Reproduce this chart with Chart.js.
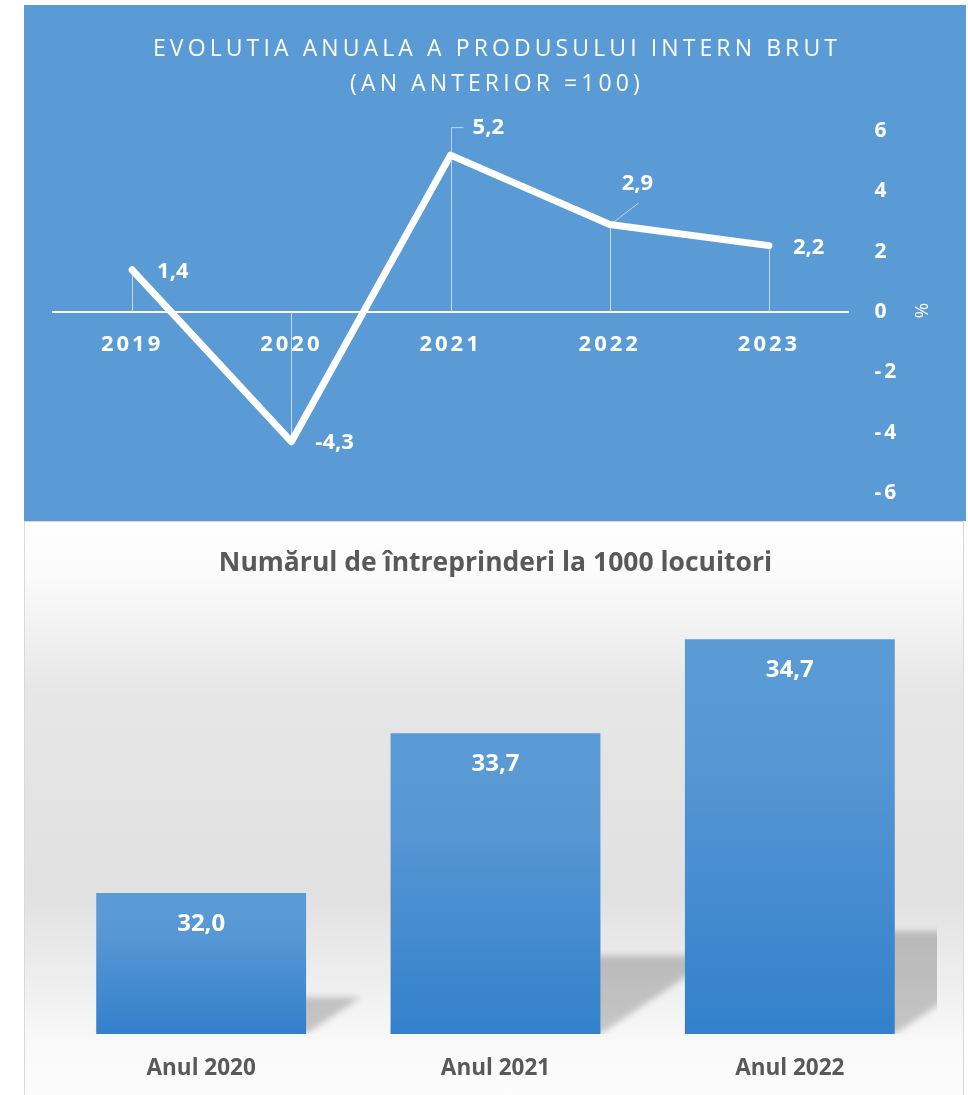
<!DOCTYPE html>
<html>
<head>
<meta charset="utf-8">
<script src="https://cdn.jsdelivr.net/npm/chart.js@4.4.1/dist/chart.umd.min.js"></script>
<style>
  body { margin: 0; width: 968px; height: 1095px; background: #fff; position: relative; overflow: hidden; }
  #top { position: absolute; left: 24px; top: 5px; width: 942px; height: 516px; background: #5B9BD5; }
  #bottom {
    position: absolute; left: 24px; top: 521px; width: 940px; height: 574px;
    box-sizing: border-box; border: 1px solid #d9d9d9; border-bottom: none;
    background: linear-gradient(to bottom, #ffffff 0%, #fafafa 10%, #e6e6e6 30%, #e1e1e1 65%, #eeeeee 80%, #f9f9f9 91%, #fcfcfc 100%);
  }
  canvas { display: block; }
</style>
</head>
<body>
<div id="top"><canvas id="gdpChart" width="942" height="516"></canvas></div>
<div id="bottom"><canvas id="firmsChart" width="938" height="573"></canvas></div>

<script>
// --- data ---
const years = ['2019', '2020', '2021', '2022', '2023'];
const gdpGrowth = [1.4, -4.3, 5.2, 2.9, 2.2];
const yTicks = [-6, -4, -2, 0, 2, 4, 6];
const gdpTitle = ['EVOLUTIA ANUALA A PRODUSULUI INTERN BRUT', '(AN ANTERIOR =100)'];

const categories = ['Anul 2020', 'Anul 2021', 'Anul 2022'];
const firmsPer1000 = [32.0, 33.7, 34.7];
const firmsTitle = 'Numărul de întreprinderi la 1000 locuitori';

const FONT = "'Open Sans', 'Noto Sans', sans-serif";
const fmt = v => v.toFixed(1).replace('.', ',');

// label placement relative to each point (px)
const labelDx = [25, 24, 22, 12, 24];
const labelDy = [2, 1, -27, -41, 2];
const leaders = { 2: [[0, 0], [0, -28], [12, -28]], 3: [[2, -2], [28, -22]] };

const gdpDecor = {
  id: 'gdpDecor',
  beforeDraw(chart) {
    chart.ctx.letterSpacing = '3px';
  },
  beforeDatasetsDraw(chart) {
    const ctx = chart.ctx;
    ctx.letterSpacing = '0px';
    const x = chart.scales.x, y = chart.scales.y;
    const zero = y.getPixelForValue(0);
    ctx.save();
    ctx.lineWidth = 1;
    gdpGrowth.forEach((v, i) => {
      const px = Math.round(x.getPixelForValue(i)), py = y.getPixelForValue(v);
      ctx.strokeStyle = 'rgba(255,255,255,0.65)';
      ctx.beginPath();
      ctx.moveTo(px + 0.5, py);
      ctx.lineTo(px + 0.5, zero);
      ctx.stroke();
      if (leaders[i]) {
        ctx.strokeStyle = 'rgba(225,230,236,0.75)';
        ctx.beginPath();
        leaders[i].forEach(([dx, dy], k) => {
          k ? ctx.lineTo(px + dx + 0.5, py + dy + 0.5) : ctx.moveTo(px + dx + 0.5, py + dy + 0.5);
        });
        ctx.stroke();
      }
    });
    ctx.restore();
  },
  afterDatasetsDraw(chart) {
    const ctx = chart.ctx;
    const x = chart.scales.x, y = chart.scales.y;
    ctx.save();
    ctx.fillStyle = '#fff';
    ctx.font = `bold 22px ${FONT}`;
    ctx.textAlign = 'left';
    ctx.textBaseline = 'middle';
    gdpGrowth.forEach((v, i) => {
      ctx.fillText(fmt(v), x.getPixelForValue(i) + labelDx[i], y.getPixelForValue(v) + labelDy[i]);
    });
    // title
    ctx.font = `23px ${FONT}`;
    ctx.letterSpacing = '4.1px';
    ctx.textAlign = 'center';
    const cx = chart.width / 2 + 2;
    ctx.fillText(gdpTitle[0], cx, 44);
    ctx.fillText(gdpTitle[1], cx, 79);
    ctx.restore();
  }
};

new Chart(document.getElementById('gdpChart'), {
  type: 'line',
  data: {
    labels: years,
    datasets: [{
      data: gdpGrowth,
      borderColor: '#ffffff',
      borderWidth: 7,
      pointRadius: 0,
      borderCapStyle: 'round',
      borderJoinStyle: 'round',
      tension: 0,
      clip: false
    }]
  },
  options: {
    responsive: false,
    animation: false,
    layout: { padding: { top: 126, bottom: 28, left: 28.5, right: 0 } },
    plugins: { legend: { display: false }, tooltip: { enabled: false } },
    scales: {
      x: {
        offset: true,
        position: { y: 0 },
        grid: { display: false, drawTicks: false, offset: true },
        border: { display: true, color: '#ffffff', width: 2 },
        ticks: { color: '#ffffff', font: { family: FONT, size: 22, weight: 'bold' }, padding: 20 }
      },
      y: {
        position: 'right',
        min: -6,
        max: 6,
        afterBuildTicks: s => { s.ticks = yTicks.map(v => ({ value: v })); },
        afterFit: s => { s.width = 117.4; s.paddingTop = 0; s.paddingBottom = 0; },
        grid: { display: false, drawTicks: false },
        border: { display: false },
        ticks: { color: '#ffffff', font: { family: FONT, size: 21, weight: 'bold' }, padding: 26, crossAlign: 'near' },
        title: { display: true, text: '%', color: '#ffffff', font: { family: FONT, size: 19 }, padding: { top: 34, bottom: 0 } }
      }
    }
  },
  plugins: [gdpDecor]
});

// --- bottom chart ---
const barGradient = c => {
  const chart = c.chart, area = chart.chartArea;
  if (!area || c.dataIndex === undefined) return '#5B9BD5';
  const top = chart.scales.y.getPixelForValue(firmsPer1000[c.dataIndex]);
  const g = chart.ctx.createLinearGradient(0, top, 0, area.bottom);
  g.addColorStop(0, '#5B9BD5');
  g.addColorStop(0.3, '#5797d4');
  g.addColorStop(1, '#3380CB');
  return g;
};

// perspective shadow behind each bar, clipped to the plot area
const barShadow = {
  id: 'barShadow',
  beforeDatasetsDraw(chart) {
    const ctx = chart.ctx, a = chart.chartArea;
    ctx.save();
    ctx.beginPath();
    ctx.rect(a.left, a.top, a.right - a.left, a.bottom - a.top);
    ctx.clip();
    ctx.filter = 'blur(3px)';
    ctx.fillStyle = 'rgba(0,0,0,0.2)';
    chart.getDatasetMeta(0).data.forEach(bar => {
      const { x, y, width } = bar.getProps(['x', 'y', 'width'], true);
      const base = a.bottom;
      const L = x - width / 2, R = x + width / 2;
      const sh = (base - y) * 0.26, d = sh / 0.67;
      ctx.beginPath();
      ctx.moveTo(L, base);
      ctx.lineTo(R, base);
      ctx.lineTo(R + d, base - sh);
      ctx.lineTo(L + d, base - sh);
      ctx.closePath();
      ctx.fill();
    });
    ctx.restore();
  }
};

const barLabels = {
  id: 'barLabels',
  afterDatasetsDraw(chart) {
    const ctx = chart.ctx;
    ctx.save();
    ctx.fillStyle = '#ffffff';
    ctx.font = `bold 24px ${FONT}`;
    ctx.textAlign = 'center';
    ctx.textBaseline = 'middle';
    chart.getDatasetMeta(0).data.forEach((bar, i) => {
      ctx.fillText(fmt(firmsPer1000[i]), bar.x, bar.y + 31);
    });
    ctx.restore();
  }
};

new Chart(document.getElementById('firmsChart'), {
  type: 'bar',
  data: {
    labels: categories,
    datasets: [{
      data: firmsPer1000,
      backgroundColor: barGradient,
      borderWidth: 0,
      categoryPercentage: 1,
      barPercentage: 0.713
    }]
  },
  options: {
    responsive: false,
    animation: false,
    layout: { padding: { top: 0, bottom: 14, left: 29, right: 26 } },
    plugins: {
      legend: { display: false },
      tooltip: { enabled: false },
      title: {
        display: true,
        text: firmsTitle,
        color: '#595959',
        font: { family: FONT, size: 26.5, weight: 'bold' },
        padding: { top: 25.1, bottom: 32.1 }
      }
    },
    scales: {
      x: {
        afterFit: s => { s.height = 47; },
        grid: { display: false, drawTicks: false },
        border: { display: false },
        ticks: { color: '#595959', font: { family: FONT, size: 22.5, weight: 'bold' }, padding: 21 }
      },
      y: { display: false, min: 30.5, max: 35 }
    }
  },
  plugins: [barShadow, barLabels]
});
</script>
</body>
</html>
